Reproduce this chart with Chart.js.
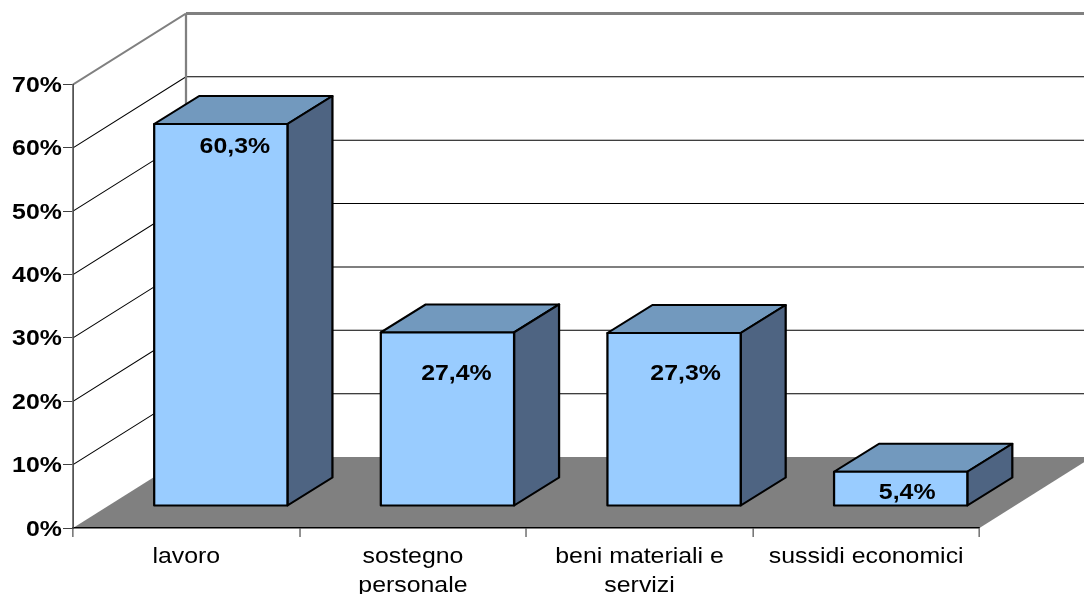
<!DOCTYPE html>
<html>
<head>
<meta charset="utf-8">
<style>
  html, body { margin: 0; padding: 0; background: #fff; }
  canvas { display: block; }
</style>
<script src="https://cdn.jsdelivr.net/npm/chart.js@4"></script>
</head>
<body>
<canvas id="chart" width="1084" height="594"></canvas>
<script>
// Categories and shares shown by the chart
const categories = ['lavoro', ['sostegno', 'personale'], ['beni materiali e', 'servizi'], 'sussidi economici'];
const shares = [60.3, 27.4, 27.3, 5.4];
const tickValues = [0, 10, 20, 30, 40, 50, 60, 70];

// Value labels sit off-centre on the front faces: [right, down] from the top centre, in px
const labelNudges = [[14, 23], [9, 42], [11.5, 41], [6.5, 21]];

// All drawing is widened horizontally so the Arial-style text gets its broad look
const SX = 1.13;
const px = v => v / SX;

// Oblique projection: wall depth and bar depth in device pixels
const WALL = { dx: px(113), dy: -71 };
const BAR = { dx: px(45), dy: -28 };
const BAR_SHIFT = { dx: px(34.5), dy: -22 };

const COLORS = {
  front: '#99CCFF', top: '#7299BE', side: '#4E6482',
  floor: '#808080', wall: '#808080', grid: '#000000', axis: '#404040'
};

function path(ctx, pts) {
  ctx.beginPath();
  pts.forEach((p, i) => i ? ctx.lineTo(p[0], p[1]) : ctx.moveTo(p[0], p[1]));
  ctx.closePath();
}

// Stretch the whole drawing, then restore at the end of the frame
const stretch = {
  id: 'stretch',
  beforeDraw(chart) {
    const ctx = chart.ctx;
    ctx.save();
    ctx.fillStyle = '#fff';
    ctx.fillRect(0, 0, chart.width, chart.height);
    ctx.scale(SX, 1);
  },
  afterDraw(chart) { chart.ctx.restore(); }
};

// Floor, back wall, side wall and the depth faces of each bar
const scene = {
  id: 'scene',
  beforeDatasetsDraw(chart) {
    const { ctx, chartArea: a, scales: { y } } = chart;
    const farRight = a.right + WALL.dx;
    const backX = a.left + WALL.dx;

    path(ctx, [[a.left, a.bottom], [a.right, a.bottom],
               [farRight, a.bottom + WALL.dy], [backX, a.bottom + WALL.dy]]);
    ctx.fillStyle = COLORS.floor;
    ctx.fill();

    ctx.lineWidth = 1;
    ctx.strokeStyle = COLORS.grid;
    tickValues.slice(1, -1).forEach(v => {
      const py = y.getPixelForValue(v);
      ctx.beginPath();
      ctx.moveTo(a.left, py);
      ctx.lineTo(backX, py + WALL.dy);
      ctx.lineTo(farRight, py + WALL.dy);
      ctx.stroke();
    });

    const topY = y.getPixelForValue(70);
    ctx.strokeStyle = COLORS.wall;
    ctx.lineWidth = 2;
    ctx.beginPath();
    ctx.moveTo(a.left, topY);
    ctx.lineTo(backX, topY + WALL.dy);
    ctx.moveTo(backX, topY + WALL.dy);
    ctx.lineTo(backX, a.bottom + WALL.dy);
    ctx.stroke();
    ctx.lineWidth = 3;
    ctx.beginPath();
    ctx.moveTo(backX, topY + WALL.dy);
    ctx.lineTo(farRight, topY + WALL.dy);
    ctx.stroke();

    ctx.save();
    ctx.translate(BAR_SHIFT.dx, BAR_SHIFT.dy);
    ctx.strokeStyle = '#000';
    ctx.lineWidth = 2;
    ctx.lineJoin = 'round';
    chart.getDatasetMeta(0).data.forEach(el => {
      const l = el.x - el.width / 2, r = el.x + el.width / 2;
      path(ctx, [[l, el.y], [r, el.y], [r + BAR.dx, el.y + BAR.dy], [l + BAR.dx, el.y + BAR.dy]]);
      ctx.fillStyle = COLORS.top;
      ctx.fill();
      ctx.stroke();
      path(ctx, [[r, el.y], [r + BAR.dx, el.y + BAR.dy], [r + BAR.dx, el.base + BAR.dy], [r, el.base]]);
      ctx.fillStyle = COLORS.side;
      ctx.fill();
      ctx.stroke();
    });
    ctx.restore();

    // The library's bars are drawn on the shifted floor position
    ctx.save();
    ctx.translate(BAR_SHIFT.dx, BAR_SHIFT.dy);
  },
  afterDatasetsDraw(chart) {
    const ctx = chart.ctx;
    const bars = chart.getDatasetMeta(0).data;
    ctx.strokeStyle = '#000';
    ctx.lineWidth = 2;
    ctx.lineJoin = 'round';
    bars.forEach(el => {
      ctx.strokeRect(el.x - el.width / 2, el.y, el.width, el.base - el.y);
    });
    ctx.fillStyle = '#000';
    ctx.font = 'bold 22px "Liberation Sans", Arial, sans-serif';
    ctx.textAlign = 'center';
    ctx.textBaseline = 'middle';
    bars.forEach((el, i) => {
      const text = shares[i].toFixed(1).replace('.', ',') + '%';
      ctx.fillText(text, el.x + px(labelNudges[i][0]), el.y + labelNudges[i][1]);
    });
    ctx.restore();
  }
};

new Chart(document.getElementById('chart'), {
  type: 'bar',
  data: {
    labels: categories,
    datasets: [{
      data: shares,
      backgroundColor: COLORS.front,
      borderWidth: 0,
      barPercentage: 0.588,
      categoryPercentage: 1
    }]
  },
  options: {
    responsive: false,
    animation: false,
    devicePixelRatio: 1,
    layout: { padding: { top: 84.5, right: 1084 - px(979.5), left: 0, bottom: 0 } },
    plugins: { legend: { display: false }, tooltip: { enabled: false } },
    scales: {
      x: {
        afterFit(s) { s.height = 66; },
        border: { color: '#000', width: 1.5, z: 1 },
        grid: { drawOnChartArea: false, drawTicks: true, tickLength: 9, color: COLORS.axis, offset: true },
        ticks: {
          autoSkip: false, maxRotation: 0, minRotation: 0, padding: 5,
          color: '#000',
          font: { family: '"Liberation Sans", Arial, sans-serif', size: 22, lineHeight: 1.32 }
        }
      },
      y: {
        min: 0, max: 70,
        afterFit(s) { s.width = px(73); },
        border: { color: COLORS.axis, width: 1.4, z: 1 },
        grid: { drawOnChartArea: false, drawTicks: true, tickLength: px(10), color: COLORS.axis },
        afterBuildTicks(s) { s.ticks = tickValues.map(value => ({ value })); },
        ticks: {
          padding: 1,
          labelOffset: 1.5,
          color: '#000',
          font: { family: '"Liberation Sans", Arial, sans-serif', size: 22, weight: 'bold' },
          callback: v => v + '%'
        }
      }
    }
  },
  plugins: [stretch, scene]
});
</script>
</body>
</html>
